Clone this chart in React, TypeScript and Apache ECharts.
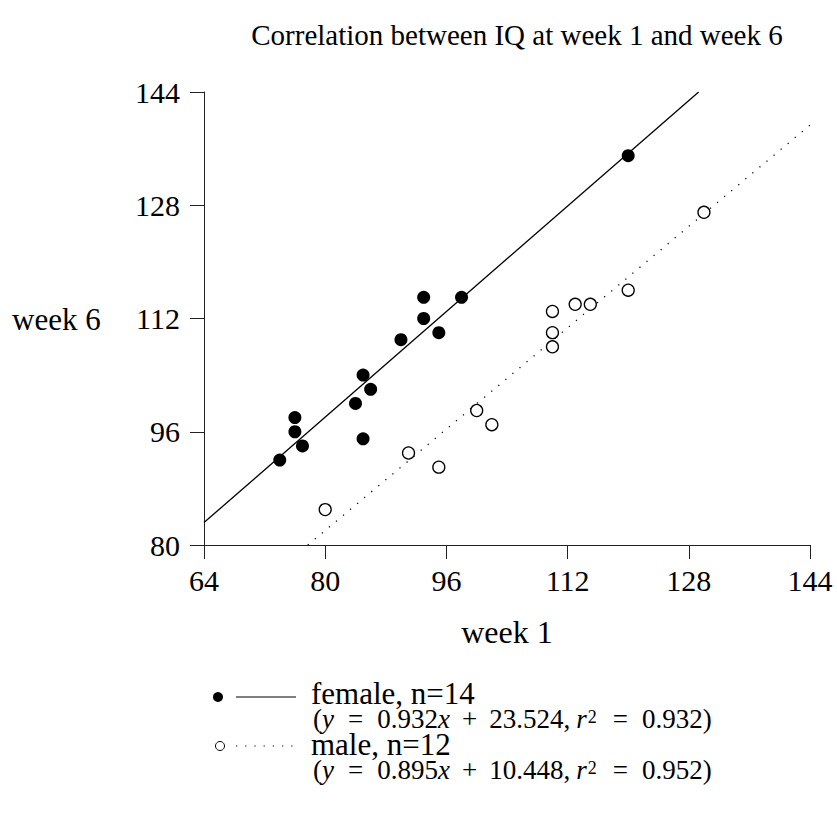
import React, { useEffect, useRef } from "react";
import * as echarts from "echarts";

const FONT = "'Liberation Serif', 'Times New Roman', serif";

const xTicks = [64, 80, 96, 112, 128, 144];
const yTicks = [80, 96, 112, 128, 144];

const femaleX = [74, 76, 76, 77, 84, 85, 85, 86, 90, 93, 93, 95, 98, 120];
const femaleY = [92, 98, 96, 94, 100, 95, 104, 102, 109, 115, 112, 110, 115, 135];

const maleX = [80, 91, 95, 100, 102, 110, 110, 110, 113, 115, 120, 130];
const maleY = [85, 93, 91, 99, 97, 108, 110, 113, 114, 114, 116, 127];

const femaleFitX = [64, 129.3];
const femaleFitY = [83.17, 144];
const maleFitX = [77.7, 144];
const maleFitY = [80, 139.33];

const titleText = "Correlation between IQ at week 1 and week 6";
const xName = "week 1";
const yName = "week 6";
const femaleLabel = "female, n=14";
const maleLabel = "male, n=12";
const femaleEq = { slope: "0.932", icpt: "23.524", r2: "0.932" };
const maleEq = { slope: "0.895", icpt: "10.448", r2: "0.952" };

const zip = (xs: number[], ys: number[]) => xs.map((x, i) => [x, ys[i]]);

function eqText(e: { slope: string; icpt: string; r2: string }) {
  return `{p|(}{i|y}{e|=}{p|${e.slope}}{i|x}{o|+}{p|${e.icpt},}{c|}{i|r}{s|2}{e|=}{p|${e.r2})}`;
}

const EQ = 27;
const eqBase = { fontFamily: FONT, fontSize: EQ, color: "#000", lineHeight: 22 };
const eqRich = {
  p: { ...eqBase },
  i: { ...eqBase, fontStyle: "italic" },
  e: { ...eqBase, padding: [0, 14, 0, 14] },
  o: { ...eqBase, padding: [0, 12, 0, 12] },
  c: { ...eqBase, padding: [0, 6, 0, 0] },
  s: { fontFamily: FONT, fontSize: 18, color: "#000", verticalAlign: "top", lineHeight: 12, padding: [0, 2, 0, 1] },
};

export default function App() {
  const ref = useRef<HTMLDivElement>(null);
  useEffect(() => {
    if (!ref.current) return;
    const chart = echarts.init(ref.current, null, { renderer: "svg" });
    const axisCommon = {
      type: "value" as const,
      interval: 16,
      axisLine: { show: true, onZero: false, lineStyle: { color: "#222", width: 1 } },
      axisTick: { show: true, inside: false, length: 14, lineStyle: { color: "#222", width: 1 } },
      splitLine: { show: false },
      axisLabel: { color: "#000", fontFamily: FONT, fontSize: 30 },
    };
    chart.setOption({
      animation: false,
      backgroundColor: "#fff",
      grid: { left: 204, top: 92, width: 606, height: 453, containLabel: false },
      xAxis: {
        ...axisCommon,
        min: xTicks[0],
        max: xTicks[xTicks.length - 1],
        axisLabel: { ...axisCommon.axisLabel, margin: 20 },
      },
      yAxis: {
        ...axisCommon,
        min: yTicks[0],
        max: yTicks[yTicks.length - 1],
        axisLabel: { ...axisCommon.axisLabel, margin: 24 },
      },
      series: [
        {
          type: "line",
          data: zip(femaleFitX, femaleFitY),
          showSymbol: false,
          lineStyle: { color: "#000", width: 1.3, type: "solid" },
          z: 1,
        },
        {
          type: "line",
          data: zip(maleFitX, maleFitY),
          showSymbol: false,
          lineStyle: { color: "#000", width: 1.3, type: [1.2, 8] },
          z: 1,
        },
        {
          type: "scatter",
          data: zip(femaleX, femaleY),
          symbol: "circle",
          symbolSize: 13,
          itemStyle: { color: "#000", opacity: 1 },
          z: 3,
        },
        {
          type: "scatter",
          data: zip(maleX, maleY),
          symbol: "circle",
          symbolSize: 12,
          itemStyle: { color: "#fff", borderColor: "#000", borderWidth: 1.3, opacity: 1 },
          z: 3,
        },
      ],
      graphic: [
        {
          type: "text",
          x: 517,
          y: 35,
          style: { text: titleText, font: `29px ${FONT}`, fill: "#000", align: "center", verticalAlign: "middle" },
        },
        {
          type: "text",
          x: 507,
          y: 632,
          style: { text: xName, font: `32px ${FONT}`, fill: "#000", align: "center", verticalAlign: "middle" },
        },
        {
          type: "text",
          x: 12,
          y: 319,
          style: { text: yName, font: `31px ${FONT}`, fill: "#000", align: "left", verticalAlign: "middle" },
        },
        { type: "circle", shape: { cx: 218, cy: 697, r: 5 }, style: { fill: "#000" } },
        { type: "line", shape: { x1: 236, y1: 697, x2: 296, y2: 697 }, style: { stroke: "#000", lineWidth: 1.2 } },
        {
          type: "text",
          x: 311,
          y: 693,
          style: { text: femaleLabel, font: `31px ${FONT}`, lineHeight: 22, fill: "#000", align: "left", verticalAlign: "middle" },
        },
        {
          type: "text",
          x: 313,
          y: 719,
          style: { text: eqText(femaleEq), rich: eqRich, align: "left", verticalAlign: "middle" },
        },
        { type: "circle", shape: { cx: 220, cy: 746, r: 4.5 }, style: { fill: "#fff", stroke: "#000", lineWidth: 1 } },
        {
          type: "line",
          shape: { x1: 236, y1: 746, x2: 296, y2: 746 },
          style: { stroke: "#000", lineWidth: 1.2, lineDash: [1.2, 8] },
        },
        {
          type: "text",
          x: 311,
          y: 744,
          style: { text: maleLabel, font: `31px ${FONT}`, lineHeight: 22, fill: "#000", align: "left", verticalAlign: "middle" },
        },
        {
          type: "text",
          x: 313,
          y: 770,
          style: { text: eqText(maleEq), rich: eqRich, align: "left", verticalAlign: "middle" },
        },
      ],
    });
    return () => chart.dispose();
  }, []);
  return <div ref={ref} style={{ width: 837, height: 818, position: "absolute", left: 0, top: 0 }} />;
}
